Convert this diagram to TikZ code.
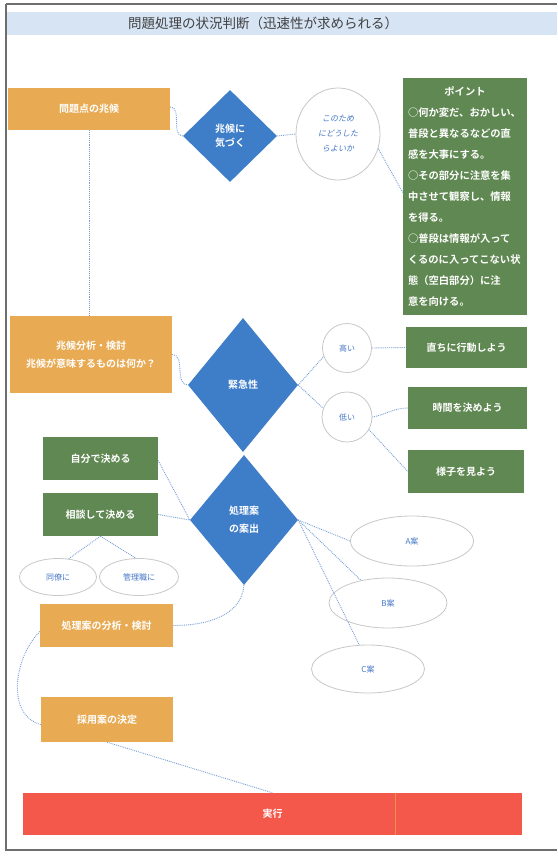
\documentclass[tikz,border=0pt]{standalone}
\usepackage{fontspec}
\newfontfamily\jp{Noto Sans CJK JP}[BoldFont={Noto Sans CJK JP Bold}]
\newfontfamily\jpsl{Noto Sans CJK JP}[FakeSlant=0.2]
\usetikzlibrary{shapes.geometric}
\definecolor{orng}{RGB}{232,170,82}
\definecolor{grn}{RGB}{96,136,82}
\definecolor{blu}{RGB}{62,125,200}
\definecolor{redb}{RGB}{244,88,74}
\definecolor{ttl}{RGB}{214,228,244}
\definecolor{lnk}{RGB}{120,160,215}
\definecolor{txtb}{RGB}{70,120,200}
\definecolor{frm}{RGB}{110,110,110}
\definecolor{elp}{RGB}{200,200,200}
\tikzset{
  base/.style={inner sep=0pt, align=center, font=\jp\bfseries\fontsize{10}{14}\selectfont, text=white},
  obox/.style={base, rectangle, fill=orng},
  gbox/.style={base, rectangle, fill=grn},
  dia/.style={base, diamond, fill=blu},
  oval/.style={ellipse, draw=elp, line width=0.8pt, fill=white, inner sep=0pt, text=txtb, font=\jp\fontsize{8}{15}\selectfont, align=center},
  circ/.style={circle, draw=elp, line width=0.8pt, fill=white, inner sep=0pt, text=txtb, font=\jp\fontsize{8}{10}\selectfont},
  lk/.style={draw=lnk, densely dotted, line width=0.9pt},
}
\begin{document}
\begin{tikzpicture}[x=1pt,y=-1pt]
\useasboundingbox (0,0) rectangle (557,856);
\fill[white] (0,0) rectangle (557,856);
% frame and title
\fill[ttl] (6,12) rectangle (557,35);
\draw[frm, line width=1.2pt] (6,4) -- (557,4);
\draw[frm, line width=1.2pt] (6,4) -- (6,850) -- (557,850);
\node[inner sep=0pt, font=\jp\fontsize{13.5}{16}\selectfont, text=black!75] (title) at (263,23) {問題処理の状況判断（迅速性が求められる）};

% nodes
\node[obox, minimum width=162, minimum height=42] (p1) at (89,109) {問題点の兆候};
\node[dia, minimum width=94, minimum height=92] (d1) at (230,136) {兆候に\\気づく};
\node[oval, minimum width=84, minimum height=92, font=\jpsl\fontsize{8}{15}\selectfont] (e1) at (338,134) {このため\\にどうした\\らよいか};
\node[gbox, minimum width=124, minimum height=237, align=left, font=\jp\bfseries\fontsize{10.3}{21}\selectfont] (pt) at (465,196.5) {\makebox[114pt][c]{ポイント}\\
○何か変だ、おかしい、\\普段と異なるなどの直\\感を大事にする。\\○その部分に注意を集\\中させて観察し、情報\\を得る。\\○普段は情報が入って\\くるのに入ってこない状\\態（空白部分）に注\\意を向ける。};

\node[obox, minimum width=162, minimum height=77, font=\jp\bfseries\fontsize{10}{18}\selectfont] (p2) at (91,354.5) {兆候分析・検討\\兆候が意味するものは何か？};
\node[dia, minimum width=110, minimum height=134] (d2) at (243,385) {緊急性};
\node[circ, minimum size=49] (c1) at (347,348) {高い};
\node[circ, minimum size=50] (c2) at (347,417) {低い};
\node[gbox, minimum width=121, minimum height=41] (g1) at (466.5,347.5) {直ちに行動しよう};
\node[gbox, minimum width=119, minimum height=42] (g2) at (467.5,408) {時間を決めよう};
\node[gbox, minimum width=116, minimum height=43] (g3) at (466,471.5) {様子を見よう};

\node[dia, minimum width=108, minimum height=130, font=\jp\bfseries\fontsize{10}{18}\selectfont] (d3) at (244,520) {処理案\\の案出};
\node[gbox, minimum width=115, minimum height=43] (g4) at (100.5,458.5) {自分で決める};
\node[gbox, minimum width=115, minimum height=43] (g5) at (100.5,514.5) {相談して決める};
\node[oval, minimum width=77, minimum height=37] (e2) at (58,577) {同僚に};
\node[oval, minimum width=79, minimum height=37] (e3) at (139,577) {管理職に};
\node[obox, minimum width=133, minimum height=43] (p3) at (106.5,625.5) {処理案の分析・検討};
\node[oval, minimum width=123, minimum height=50] (eA) at (412,541) {A案};
\node[oval, minimum width=118, minimum height=50] (eB) at (388,603) {B案};
\node[oval, minimum width=113, minimum height=48] (eC) at (368,669) {C案};
\node[obox, minimum width=132, minimum height=45] (p4) at (107,719.5) {採用案の決定};
\node[base, rectangle, fill=redb, minimum width=499, minimum height=42] (ex) at (272.5,814) {実行};
\draw[orng!70!redb, line width=0.6pt] (395,793) -- (395,835);

% connectors
\draw[lk] ([yshift=2pt]p1.east) to[out=0,in=180] (d1.west);
\draw[lk] (d1.east) -- (e1.west);
\draw[lk] (e1.-20) -- ([yshift=4pt]pt.west);
\draw[lk] (p1.south) -- (p1.south |- p2.north);
\draw[lk] (p2.east) to[out=0,in=180] (d2.west);
\draw[lk] (d2.east) -- (c1.200);
\draw[lk] (d2.east) -- (c2.160);
\draw[lk] (c1.east) -- (g1.west);
\draw[lk] (c2.east) to[out=10,in=180] (g2.west);
\draw[lk] (c2.-30) -- (g3.west);
\draw[lk] ([yshift=-2pt]g4.east) -- (d3.west);
\draw[lk] (g5.east) -- (d3.west);
\draw[lk] (g5.south) -- (e2.60);
\draw[lk] (g5.south) -- (e3.100);
\draw[lk] (d3.east) -- (eA.west);
\draw[lk] (d3.east) -- (eB.140);
\draw[lk] (d3.east) -- (eC.110);
\draw[lk] (d3.south) to[out=-95,in=0] (p3.east);
\draw[lk] ([yshift=-6pt]p3.west) to[out=225,in=165] ([yshift=-5pt]p4.west);
\draw[lk] (p4.south) -- (ex.north);
\end{tikzpicture}
\end{document}
